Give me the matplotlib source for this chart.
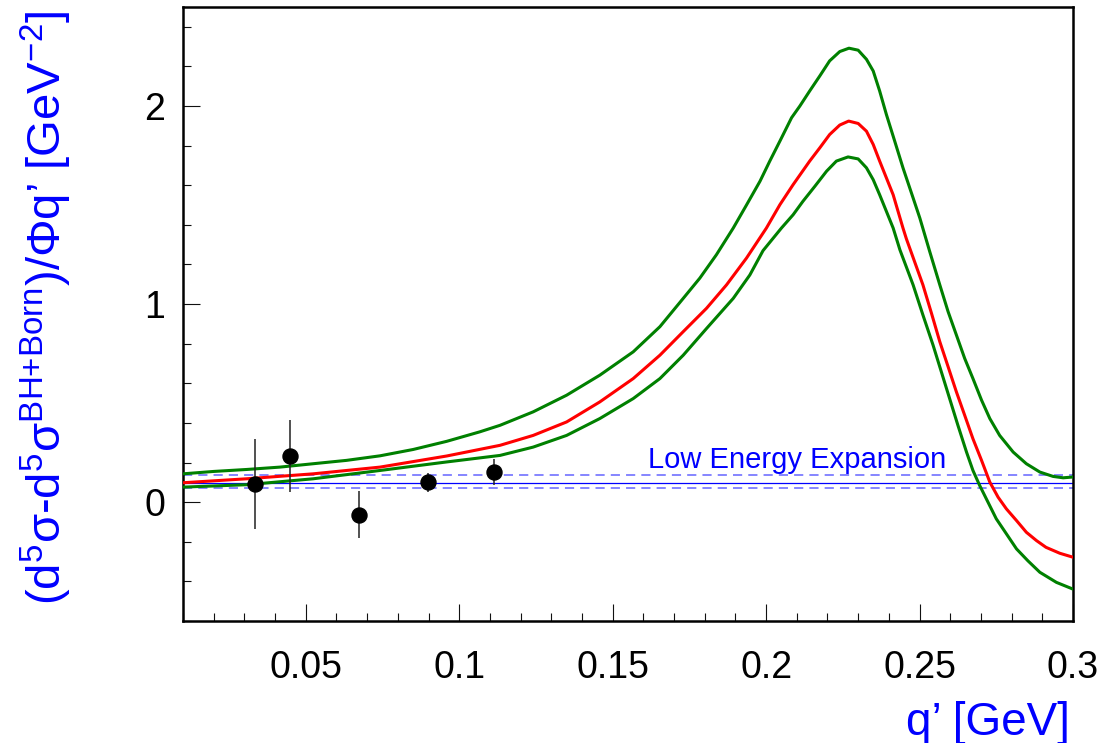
import numpy as np
import matplotlib
matplotlib.use('Agg')
import matplotlib.pyplot as plt
from matplotlib.ticker import FixedLocator, MultipleLocator

plt.rcParams.update({
    'font.family': ['Liberation Sans', 'DejaVu Sans'],
    'mathtext.fontset': 'custom',
    'mathtext.rm': 'Liberation Sans',
    'mathtext.it': 'Liberation Sans:italic',
    'mathtext.bf': 'Liberation Sans:bold',
})

# -- data --
# data points: q' [GeV], value, error
pt_q   = [0.0335, 0.0449, 0.0673, 0.0899, 0.1114]
pt_y   = [0.093, 0.233, -0.063, 0.101, 0.152]
pt_err = [0.228, 0.180, 0.117, 0.048, 0.066]

# central prediction (red)
red_q = [0.010, 0.0307, 0.0524, 0.0742, 0.0959, 0.1133, 0.1241, 0.1350, 0.1458,
         0.1567, 0.1654, 0.1730, 0.1806, 0.1871, 0.1936, 0.2001, 0.2045, 0.2088,
         0.2142, 0.2175, 0.2207, 0.2240, 0.2269, 0.2300, 0.2327, 0.2349, 0.2370,
         0.2392, 0.2414, 0.2446, 0.2457, 0.2511, 0.2539, 0.2566, 0.2593, 0.2620,
         0.2647, 0.2674, 0.2702, 0.2729, 0.2756, 0.2783, 0.2816, 0.2848, 0.2881,
         0.2912, 0.2957, 0.300]
red_y = [0.098, 0.118, 0.143, 0.177, 0.233, 0.287, 0.337, 0.405, 0.506,
         0.624, 0.742, 0.861, 0.979, 1.097, 1.232, 1.384, 1.502, 1.603,
         1.722, 1.789, 1.856, 1.904, 1.924, 1.912, 1.873, 1.806, 1.722,
         1.637, 1.552, 1.384, 1.330, 1.097, 0.953, 0.810, 0.684, 0.557,
         0.439, 0.320, 0.211, 0.101, 0.025, -0.034, -0.093, -0.152, -0.194,
         -0.228, -0.258, -0.278]

# upper edge of band (green)
up_q = [0.010, 0.0199, 0.0307, 0.0416, 0.0524, 0.0633, 0.0742, 0.0850, 0.0959,
        0.1067, 0.1133, 0.1241, 0.1350, 0.1458, 0.1567, 0.1654, 0.1730, 0.1784,
        0.1838, 0.1893, 0.1936, 0.1980, 0.2012, 0.2045, 0.2083, 0.2110, 0.2142,
        0.2175, 0.2207, 0.2240, 0.2270, 0.2300, 0.2327, 0.2349, 0.2370, 0.2392,
        0.2419, 0.2446, 0.2479, 0.2501, 0.2533, 0.2566, 0.2593, 0.2620, 0.2647,
        0.2674, 0.2702, 0.2729, 0.2761, 0.2805, 0.2848, 0.2892, 0.2935, 0.2968,
        0.300]
up_y = [0.143, 0.155, 0.165, 0.177, 0.194, 0.211, 0.234, 0.266, 0.307,
        0.355, 0.388, 0.456, 0.540, 0.641, 0.759, 0.886, 1.029, 1.131,
        1.249, 1.384, 1.500, 1.620, 1.722, 1.823, 1.941, 2.000, 2.076,
        2.152, 2.228, 2.275, 2.292, 2.282, 2.236, 2.177, 2.076, 1.957,
        1.823, 1.688, 1.536, 1.434, 1.266, 1.097, 0.962, 0.844, 0.726,
        0.624, 0.515, 0.422, 0.337, 0.253, 0.194, 0.152, 0.130, 0.123,
        0.127]

# lower edge of band (green)
lo_q = [0.010, 0.0307, 0.0524, 0.0742, 0.0959, 0.1133, 0.1241, 0.1350, 0.1458,
        0.1567, 0.1654, 0.1730, 0.1806, 0.1893, 0.1947, 0.1990, 0.2050, 0.2088,
        0.2120, 0.2159, 0.2197, 0.2229, 0.2267, 0.2300, 0.2327, 0.2349, 0.2370,
        0.2392, 0.2414, 0.2436, 0.2479, 0.2511, 0.2544, 0.2571, 0.2598, 0.2625,
        0.2653, 0.2674, 0.2696, 0.2723, 0.2750, 0.2783, 0.2816, 0.2853, 0.2892,
        0.2946, 0.300]
lo_y = [0.076, 0.088, 0.118, 0.160, 0.203, 0.236, 0.278, 0.337, 0.422,
        0.523, 0.624, 0.742, 0.877, 1.029, 1.147, 1.270, 1.384, 1.451,
        1.519, 1.595, 1.671, 1.722, 1.743, 1.733, 1.688, 1.628, 1.552,
        1.468, 1.384, 1.274, 1.097, 0.945, 0.793, 0.658, 0.523, 0.388,
        0.253, 0.160, 0.084, 0.000, -0.084, -0.160, -0.236, -0.296, -0.354,
        -0.405, -0.439]

# low energy expansion: central value and band
lex_c  = 0.096
lex_hi = 0.135
lex_lo = 0.072

x_ticks  = [0.05, 0.1, 0.15, 0.2, 0.25, 0.3]
x_labels = ['0.05', '0.1', '0.15', '0.2', '0.25', '0.3']
y_ticks  = [0, 1, 2]
y_labels = ['0', '1', '2']

W, H = 1109, 743
fig = plt.figure(figsize=(W / 100, H / 100), dpi=100)
ax = fig.add_axes([183 / W, 1 - 621 / H, (1073 - 183) / W, (621 - 7) / H])

GREEN = '#008000'
ax.plot(up_q, up_y, color=GREEN, lw=2.2, zorder=3, solid_joinstyle='round')
ax.plot(lo_q, lo_y, color=GREEN, lw=2.2, zorder=3, solid_joinstyle='round')
ax.plot(red_q, red_y, color='#ff0000', lw=2.2, zorder=3, solid_joinstyle='round')

ax.axhline(lex_hi, color='#6464ff', lw=1.1, ls=(0, (6, 4)), zorder=2)
ax.axhline(lex_lo, color='#6464ff', lw=1.1, ls=(0, (6, 4)), zorder=2)
ax.axhline(lex_c, color='#0000ff', lw=0.9, zorder=2)
ax.text(0.1615, 0.172, 'Low Energy Expansion', color='#0000ff',
        fontsize=21, ha='left', va='baseline')

ax.errorbar(pt_q, pt_y, yerr=pt_err, fmt='o', color='black', ms=10.8,
            ecolor='#222222', elinewidth=1.1, capsize=0, zorder=5)

ax.set_xlim(0.01, 0.3)
ax.set_ylim(-0.6, 2.5)
ax.xaxis.set_major_locator(FixedLocator(x_ticks))
ax.set_xticklabels(x_labels)
ax.xaxis.set_minor_locator(MultipleLocator(0.01))
ax.yaxis.set_major_locator(FixedLocator(y_ticks))
ax.set_yticklabels(y_labels)
ax.yaxis.set_minor_locator(MultipleLocator(0.2))
ax.tick_params(which='both', direction='in', top=False, right=False,
               labelsize=27, width=0.8, color='#111111')
ax.tick_params(which='major', length=12)
ax.tick_params(which='minor', length=6)
ax.tick_params(axis='x', which='major', pad=21)
ax.tick_params(axis='y', which='major', pad=13)
for sp in ax.spines.values():
    sp.set_linewidth(1.8)

fig.text(1070 / W, (H - 735) / H, 'q\u2019 [GeV]', color='#0000ff',
         fontsize=33, ha='right', va='baseline')
ylab = (r'(d$^{5}$σ-d$^{5}$σ$^{\mathrm{BH{+}Born}}$)/Φq' + '\u2019'
        + r' [GeV$^{{-}2}$]')
fig.text(74 / W, 1 - 10 / H, ylab, color='#0000ff', fontsize=34,
         rotation=90, ha='right', va='top')

fig.savefig('out.png', dpi=100)
